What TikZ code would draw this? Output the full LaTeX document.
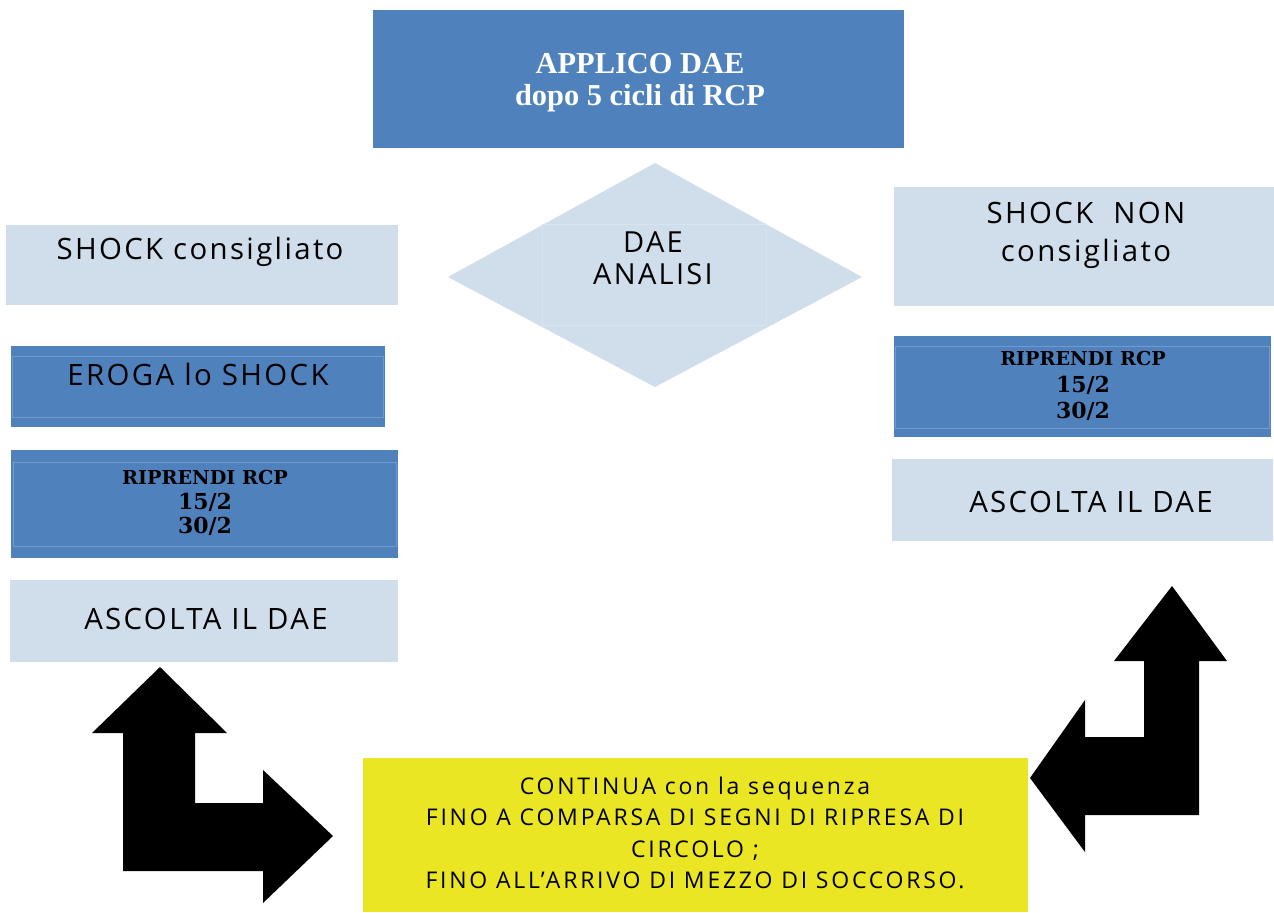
\documentclass[tikz,border=0pt]{standalone}
\usepackage{fontspec}
\setmainfont{Liberation Serif}
\newfontfamily\sansf[LetterSpace=8]{Open Sans}
\newfontfamily\sansy[LetterSpace=12]{Open Sans}
\newfontfamily\serifb{DejaVu Serif}
\usetikzlibrary{fit}
\definecolor{dblue}{HTML}{4F81BD}
\definecolor{lblue}{HTML}{D0DEEB}
\definecolor{yel}{HTML}{EAE624}
\definecolor{innerline}{HTML}{6F9BD0}
\definecolor{faint}{HTML}{D8E4EF}
\begin{document}
\begin{tikzpicture}[x=0.5pt,y=-0.5pt,
  boxbase/.style={inner sep=0pt, outer sep=0pt, draw=none},
  darkbox/.style={boxbase, fill=dblue},
  lightbox/.style={boxbase, fill=lblue},
  yellowbox/.style={boxbase, fill=yel},
  sanslab/.style={inner sep=0pt, align=center, text=black, font=\sansf\fontsize{14.7}{19}\selectfont},
  yellab/.style={inner sep=0pt, align=center, text=black, font=\sansy\fontsize{11.5}{15.8}\selectfont},
  serifwhite/.style={inner sep=0pt, align=center, text=white, font=\bfseries\fontsize{15.2}{16}\selectfont},
  serifblack/.style={inner sep=0pt, align=center, text=black, font=\serifb\bfseries\fontsize{9.6}{12.3}\selectfont},
  inner/.style={draw=innerline, line width=0.4pt},
  blockarrow/.style={fill=black, draw=none}]
\useasboundingbox (0,0) rectangle (1274,912);

% top box
\node[darkbox, fit={(373,10)(904,148)}] (top) {};
\node[serifwhite] (toptxt) at (640,83) {APPLICO DAE\\[0pt]dopo 5 cicli di RCP};

% diamond
\fill[lblue] (655,163) coordinate (dtop) -- (862,277) coordinate (dright) -- (655,387) coordinate (dbot) -- (448,277) coordinate (dleft) -- cycle;
\draw[faint, line width=0.3pt] (542,224) rectangle (766,325);
\node[sanslab, font=\sansf\fontsize{14.5}{16}\selectfont] (dtxt) at (653,258) {DAE\\ANALISI};

% left column
\node[lightbox, fit={(6,225)(398,305)}] (lshock) {};
\node[sanslab] (lshocktxt) at (200,252) {SHOCK consigliato};

\node[darkbox, fit={(11,346)(385,427)}] (eroga) {};
\draw[inner] (12,356) rectangle (383,417);
\node[sanslab] (erogatxt) at (198,374) {EROGA lo SHOCK};

\node[darkbox, fit={(11,450)(398,558)}] (lrcp) {};
\draw[inner] (13,462) rectangle (396,546);
\node[serifblack] (lrcptxt) at (205,503) {RIPRENDI RCP\\{\fontsize{11}{12}\selectfont 15/2}\\{\fontsize{11}{12}\selectfont 30/2}};

\node[lightbox, fit={(10,580)(398,662)}] (lascolta) {};
\node[sanslab] (lascoltatxt) at (206,619) {ASCOLTA IL DAE};

% right column
\node[lightbox, fit={(894,187)(1274,306)}] (rshock) {};
\node[sanslab] (rshocktxt) at (1086,235) {SHOCK\ \ NON\\consigliato};

\node[darkbox, fit={(894,336)(1271,437)}] (rrcp) {};
\draw[inner] (895,346) rectangle (1269,428);
\node[serifblack, font=\serifb\bfseries\fontsize{9.6}{13.3}\selectfont] (rrcptxt) at (1083,386) {RIPRENDI RCP\\{\fontsize{11}{12}\selectfont 15/2}\\{\fontsize{11}{12}\selectfont 30/2}};

\node[lightbox, fit={(892,459)(1273,541)}] (rascolta) {};
\node[sanslab] (rascoltatxt) at (1091,502) {ASCOLTA IL DAE};

% bottom yellow box
\node[yellowbox, fit={(363,758)(1028,912)}] (cont) {};
\node[yellab] (conttxt) at (695,833) {CONTINUA con la sequenza\\FINO A COMPARSA DI SEGNI DI RIPRESA DI\\CIRCOLO ;\\FINO ALL’ARRIVO DI MEZZO DI SOCCORSO.};

% block arrows
\fill[blockarrow] (160,667) -- (227,733) -- (195,733) -- (195,803) -- (263,803) -- (263,770) -- (333,836) -- (263,903) -- (263,871) -- (123,871) -- (123,733) -- (92,733) -- cycle;
\fill[blockarrow] (1172,586) -- (1227,661) -- (1199,661) -- (1199,815) -- (1085,815) -- (1085,852) -- (1030,778) -- (1085,700) -- (1085,737) -- (1144,737) -- (1144,661) -- (1114,661) -- cycle;
\end{tikzpicture}
\end{document}
